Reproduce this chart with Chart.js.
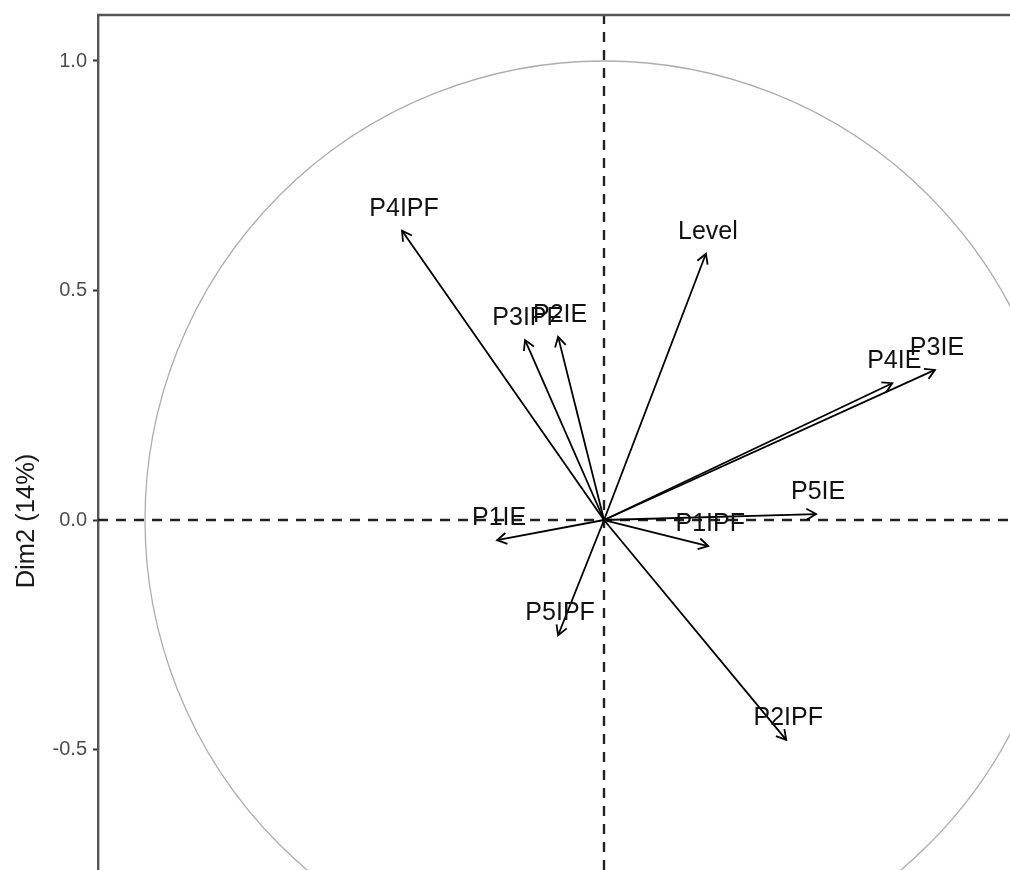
<!DOCTYPE html>
<html>
<head>
<meta charset="utf-8">
<script src="https://cdn.jsdelivr.net/npm/chart.js@4/dist/chart.umd.min.js"></script>
<style>
  html, body { margin: 0; padding: 0; background: #fff; }
</style>
</head>
<body>
<canvas id="pcaChart" width="1010" height="870"></canvas>
<script>
// variable coordinates on the first two dimensions
const varNames = ['P4IPF', 'Level', 'P3IPF', 'P2IE', 'P4IE', 'P3IE', 'P5IE', 'P1IPF', 'P1IE', 'P5IPF', 'P2IPF']
const dim1 = [-0.440, 0.222, -0.172, -0.100, 0.628, 0.721, 0.462, 0.227, -0.233, -0.100, 0.397]
const dim2 = [0.630, 0.580, 0.392, 0.399, 0.298, 0.327, 0.013, -0.057, -0.044, -0.251, -0.479]
const yTicks = [-0.5, 0.0, 0.5, 1.0]
const yTitle = 'Dim2 (14%)'

const FONT = "'Liberation Sans', Arial, sans-serif"

const datasets = varNames.map((name, i) => ({
  label: name,
  data: [{ x: 0, y: 0 }, { x: dim1[i], y: dim2[i] }],
  showLine: true,
  borderColor: '#000',
  borderWidth: 1.8,
  pointRadius: 0,
  pointHoverRadius: 0,
  fill: false
}))

const pcaDecor = {
  id: 'pcaDecor',
  beforeDatasetsDraw(chart) {
    const { ctx, chartArea: a, scales: { x, y } } = chart
    const cx = x.getPixelForValue(0)
    const cy = y.getPixelForValue(0)
    const r = x.getPixelForValue(1) - cx

    ctx.save()
    ctx.beginPath()
    ctx.rect(a.left, a.top, a.right - a.left, a.bottom - a.top)
    ctx.clip()

    // correlation circle
    ctx.strokeStyle = '#adadad'
    ctx.lineWidth = 1.3
    ctx.beginPath()
    ctx.arc(cx, cy, r, 0, Math.PI * 2)
    ctx.stroke()

    // dashed zero lines
    ctx.strokeStyle = '#222'
    ctx.lineWidth = 2.4
    ctx.setLineDash([10, 8])
    ctx.beginPath()
    ctx.moveTo(a.left, cy); ctx.lineTo(a.right, cy)
    ctx.moveTo(cx, a.bottom); ctx.lineTo(cx, a.top)
    ctx.stroke()
    ctx.restore()
  },
  afterDatasetsDraw(chart) {
    const { ctx, scales: { x, y } } = chart
    ctx.save()
    chart.data.datasets.forEach((ds, i) => {
      const x0 = x.getPixelForValue(0), y0 = y.getPixelForValue(0)
      const x1 = x.getPixelForValue(dim1[i]), y1 = y.getPixelForValue(dim2[i])
      const ang = Math.atan2(y1 - y0, x1 - x0)
      const len = 11, spread = Math.PI / 6
      ctx.strokeStyle = '#000'
      ctx.lineWidth = 1.8
      ctx.beginPath()
      ctx.moveTo(x1 - len * Math.cos(ang - spread), y1 - len * Math.sin(ang - spread))
      ctx.lineTo(x1, y1)
      ctx.lineTo(x1 - len * Math.cos(ang + spread), y1 - len * Math.sin(ang + spread))
      ctx.stroke()

      ctx.fillStyle = '#111'
      ctx.font = '25px ' + FONT
      ctx.textAlign = 'center'
      ctx.textBaseline = 'middle'
      ctx.fillText(ds.label, x1 + 2, y1 - 22)
    })
    ctx.restore()
  },
  afterDraw(chart) {
    const { ctx, chartArea: a } = chart
    ctx.save()
    // top panel border
    ctx.strokeStyle = '#555'
    ctx.lineWidth = 2.4
    ctx.beginPath()
    ctx.moveTo(a.left - 1, a.top)
    ctx.lineTo(a.right, a.top)
    ctx.stroke()

    // y axis title
    ctx.translate(27, 521)
    ctx.rotate(-Math.PI / 2)
    ctx.fillStyle = '#1a1a1a'
    ctx.font = '25.5px ' + FONT
    ctx.textAlign = 'center'
    ctx.textBaseline = 'middle'
    ctx.fillText(yTitle, 0, 0)
    ctx.restore()
  }
}

new Chart(document.getElementById('pcaChart'), {
  type: 'scatter',
  data: { datasets },
  plugins: [pcaDecor],
  options: {
    responsive: false,
    animation: false,
    events: [],
    layout: { padding: { top: 15, left: 0, right: 0, bottom: 0 } },
    plugins: { legend: { display: false }, tooltip: { enabled: false } },
    scales: {
      x: {
        type: 'linear',
        display: false,
        min: -1.1024,
        max: 0.8845
      },
      y: {
        type: 'linear',
        min: -0.7625,
        max: 1.1002,
        afterBuildTicks: (scale) => { scale.ticks = yTicks.map(v => ({ value: v })) },
        afterFit: (scale) => {
          scale.width = 98
          scale.paddingTop = 0
          scale.paddingBottom = 0
        },
        border: { display: true, color: '#555', width: 2.4 },
        grid: { drawOnChartArea: false, drawTicks: true, tickLength: 5, tickColor: '#333', tickWidth: 2 },
        ticks: {
          padding: 6,
          color: '#4d4d4d',
          font: { family: FONT, size: 20 },
          callback: (v) => v.toFixed(1)
        },
        title: { display: false }
      }
    }
  }
})
</script>
</body>
</html>
